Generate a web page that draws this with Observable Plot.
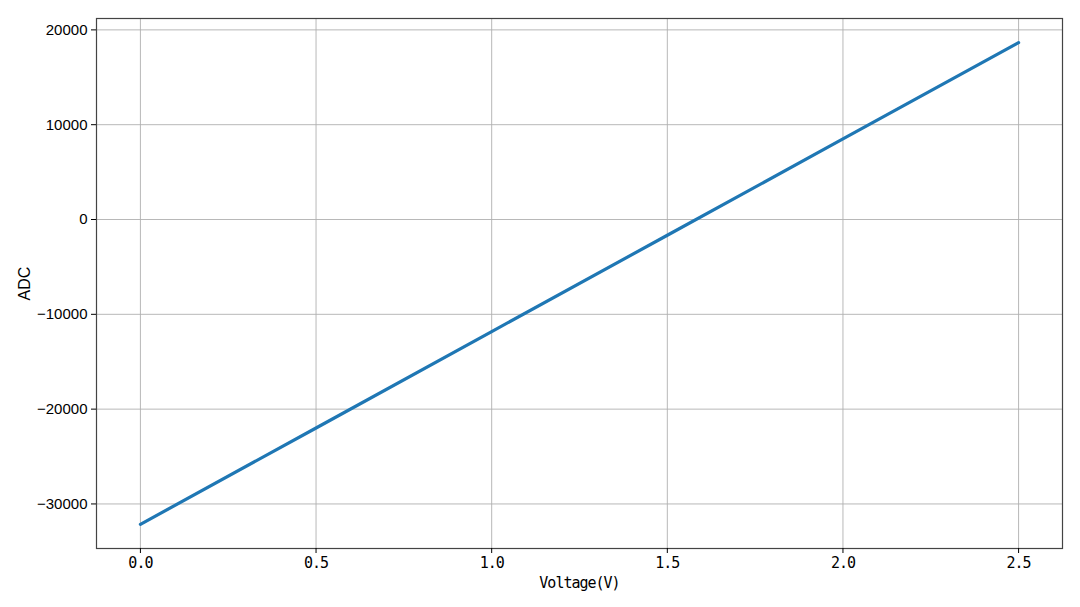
<!DOCTYPE html>
<html>
<head>
<meta charset="utf-8">
<script src="https://cdn.jsdelivr.net/npm/d3@7"></script>
<script src="https://cdn.jsdelivr.net/npm/@observablehq/plot@0.6"></script>
<style>
  html, body { margin: 0; padding: 0; background: #fff; }
  #chart svg { display: block; }
  g[aria-label="x-axis tick label"] text, g[aria-label="x-axis label"] text { letter-spacing: -1px; }
</style>
</head>
<body>
<div id="chart"></div>
<script>
const voltage = [0.0, 0.5, 1.0, 1.5, 2.0, 2.5];
const adc = [-32150, -21990, -11820, -1660, 8500, 18660];
const xTicks = [0.0, 0.5, 1.0, 1.5, 2.0, 2.5];
const yTicks = [-30000, -20000, -10000, 0, 10000, 20000];

const data = voltage.map((v, i) => ({v, a: adc[i]}));
const fmtY = d => d < 0 ? "\u2212" + (-d) : String(d);

const chart = Plot.plot({
  width: 1080,
  height: 607,
  marginLeft: 96,
  marginRight: 18,
  marginTop: 18,
  marginBottom: 59,
  style: {fontFamily: "'Liberation Sans', Arial, sans-serif", fontSize: "15px", color: "#000", background: "#fff"},
  x: {domain: [-0.125, 2.625]},
  y: {domain: [-34700, 21200]},
  marks: [
    Plot.gridX(xTicks, {stroke: "#b0b0b0", strokeOpacity: 1, strokeWidth: 0.9}),
    Plot.gridY(yTicks, {stroke: "#b0b0b0", strokeOpacity: 1, strokeWidth: 0.9}),
    Plot.line(data, {x: "v", y: "a", stroke: "#1f77b4", strokeWidth: 3.2}),
    Plot.frame({stroke: "#444", strokeWidth: 1.2}),
    Plot.axisX({ticks: xTicks, tickFormat: d => d.toFixed(1), tickSize: 5, tickPadding: 4,
      fontFamily: "'DejaVu Sans Mono', monospace", fontSize: 15,
      label: "Voltage(V)", labelAnchor: "center", labelArrow: "none", labelOffset: 39}),
    Plot.axisY({ticks: yTicks, tickFormat: fmtY, tickSize: 5, tickPadding: 4, fontSize: 15,
      fontFamily: "'Liberation Sans', Arial, sans-serif", label: null}),
    Plot.axisY({ticks: [], tickSize: 0, label: "ADC", labelAnchor: "center", labelArrow: "none", labelOffset: 78,
      fontFamily: "'Liberation Sans', Arial, sans-serif", fontSize: 16})
  ]
});
document.getElementById("chart").appendChild(chart);
</script>
</body>
</html>
